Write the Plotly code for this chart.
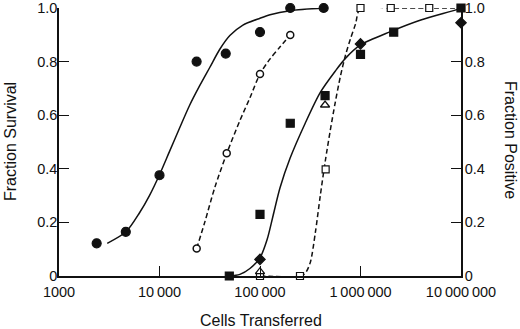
import plotly.graph_objects as go

# ---- data ----
# Filled circles (Fraction Survival) and fitted solid curve
circ_x = [2370, 4620, 10000, 23400, 45600, 100000, 200000, 430000]
circ_y = [0.122, 0.165, 0.376, 0.80, 0.83, 0.91, 1.0, 1.0]
fit1_x = [3020, 4645, 6310, 7943, 10000, 12590, 15850, 19950, 25120, 31620, 39810, 50120, 67610, 100000, 125900, 199500, 430500]
fit1_y = [0.122, 0.165, 0.235, 0.30, 0.378, 0.465, 0.552, 0.637, 0.71, 0.778, 0.846, 0.897, 0.936, 0.962, 0.975, 0.99, 1.0]

# Open circles and dashed curve
ocirc_x = [23440, 46650, 100000, 200000]
ocirc_y = [0.103, 0.458, 0.754, 0.899]
fit2_x = [23440, 28180, 35480, 46770, 63100, 79430, 100000, 125900, 158500, 199500]
fit2_y = [0.103, 0.20, 0.33, 0.458, 0.58, 0.665, 0.754, 0.81, 0.855, 0.899]

# Filled squares and solid curve
sq_x = [49500, 100000, 200000, 444000, 1000000, 2140000, 10000000]
sq_y = [0.0, 0.23, 0.57, 0.673, 0.827, 0.91, 1.0]
fit3_x = [49500, 63100, 79400, 100000, 117500, 134900, 158500, 199500, 281800, 398100, 562300, 707900, 1000000, 1995000, 3981000, 8913000, 10000000]
fit3_y = [0.0, 0.006, 0.028, 0.068, 0.135, 0.225, 0.33, 0.44, 0.57, 0.685, 0.765, 0.812, 0.862, 0.912, 0.955, 0.993, 1.0]

# Filled diamonds
dia_x = [100000, 1000000, 10000000]
dia_y = [0.062, 0.866, 0.945]

# Open triangles
tri_x = [100000, 444000]
tri_y = [0.016, 0.638]

# Open squares and dashed curve
osq_x = [100000, 250000, 450000, 1000000, 2000000, 4830000, 10000000]
osq_y = [0.0, 0.0, 0.398, 1.0, 1.0, 1.0, 1.0]
fit4_x = [100000, 251200, 281800, 316200, 354800, 398100, 446700, 501200, 562300, 631000, 707900, 794300, 891300, 1000000, 2000000, 4830000, 10000000]
fit4_y = [0.0, 0.0, 0.01, 0.05, 0.16, 0.30, 0.43, 0.545, 0.65, 0.745, 0.823, 0.885, 0.94, 1.0, 1.0, 1.0, 1.0]

x_tickvals = [1000, 10000, 100000, 1000000, 10000000]
x_ticktext = ["1000", "10\u2009000", "100\u2009000", "1\u2009000\u2009000", "10\u2009000\u2009000"]
y_tickvals = [0, 0.2, 0.4, 0.6, 0.8, 1.0]
y_ticktext = ["0", "0.2", "0.4", "0.6", "0.8", "1.0"]

BLACK = "#111111"
FONT = "Liberation Sans, Arial, sans-serif"
TICK_SIZE = 14.5
TITLE_SIZE = 16

fig = go.Figure()

def line(x, y, dash):
    fig.add_trace(go.Scatter(x=x, y=y, mode="lines",
                             line=dict(color=BLACK, width=1.5, dash=dash, shape="spline", smoothing=0.8),
                             cliponaxis=False, hoverinfo="skip", showlegend=False))

line(fit1_x, fit1_y, "solid")
line(fit2_x, fit2_y, "5px,3px")
line(fit3_x, fit3_y, "solid")
line(fit4_x, fit4_y, "5px,3px")

def pts(x, y, symbol, size, fill, lw=1.2):
    fig.add_trace(go.Scatter(x=x, y=y, mode="markers", cliponaxis=False, showlegend=False,
                             marker=dict(symbol=symbol, size=size, color=fill, line=dict(color=BLACK, width=lw))))

pts(circ_x, circ_y, "circle", 9, BLACK)
pts(ocirc_x, ocirc_y, "circle", 7, "white", 1.5)
pts(osq_x, osq_y, "square", 7, "white", 1.2)
pts(sq_x, sq_y, "square", 8, BLACK)
pts(tri_x, tri_y, "triangle-up", 8, "white", 1.3)
pts(dia_x, dia_y, "diamond", 8, BLACK)

axis_common = dict(showgrid=False, zeroline=False, showline=True, linecolor=BLACK, linewidth=1.5,
                   ticks="inside", ticklen=10, tickwidth=1.2, tickcolor=BLACK, automargin=False,
                   tickfont=dict(family=FONT, size=TICK_SIZE, color=BLACK))

L, R, T, B = 59, 59, 8, 53
W, H = 520, 329
fig.update_layout(
    width=W, height=H,
    margin=dict(l=L, r=R, t=T, b=B),
    paper_bgcolor="white", plot_bgcolor="white",
    font=dict(family=FONT, color=BLACK),
    xaxis=dict(type="log", range=[3, 7], tickvals=x_tickvals, ticktext=x_ticktext,
               ticklabelstandoff=2, **axis_common),
    yaxis=dict(range=[0, 1.0], tickvals=y_tickvals, ticktext=y_ticktext, ticklabelstandoff=-3, **axis_common),
    yaxis2=dict(range=[0, 1.0], tickvals=y_tickvals, ticktext=y_ticktext, overlaying="y", side="right",
                ticklabelstandoff=-1, **axis_common),
)

pw, ph = W - L - R, H - T - B
def ann(text, px, py, angle):
    fig.add_annotation(text=text, x=(px - L) / pw, y=(H - B - py) / ph, xref="paper", yref="paper",
                       showarrow=False, textangle=angle, xanchor="center", yanchor="middle",
                       font=dict(family=FONT, size=TITLE_SIZE, color=BLACK))

ann("Fraction Survival", 10, 142, -90)
ann("Fraction Positive", 511, 140, 90)
ann("Cells Transferred", 261, 320, 0)

# invisible trace to activate right axis
fig.add_trace(go.Scatter(x=[1000], y=[0], yaxis="y2", mode="markers", marker=dict(opacity=0),
                         showlegend=False, hoverinfo="skip"))

fig.write_html("out.html", config={"displayModeBar": False},
               post_script="document.body.style.margin='0';document.body.style.overflow='hidden';")
